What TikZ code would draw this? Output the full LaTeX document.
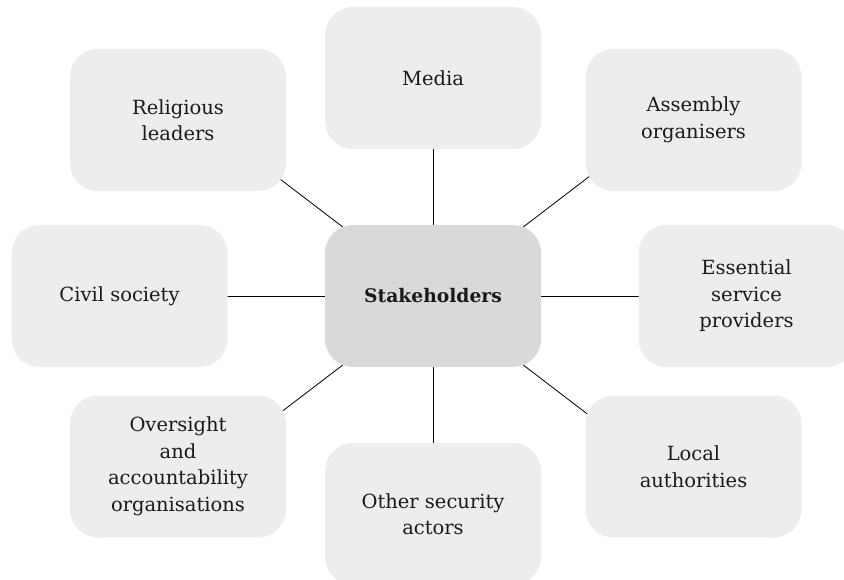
\documentclass[tikz,border=0pt]{standalone}
\usepackage{fontspec}
\setmainfont{DejaVu Serif}
\usepackage{tikz}
\usepackage{xcolor}
\usetikzlibrary{backgrounds}

\definecolor{boxgray}{HTML}{EDEDED}
\definecolor{hubgray}{HTML}{D9D9D9}
\definecolor{inkgray}{HTML}{1A1A1A}

\tikzset{
    actor/.style={rectangle, rounded corners=28pt, fill=boxgray, minimum width=216pt, minimum height=142pt,
        inner sep=0pt, align=center, text=inkgray, font=\fontsize{19.5}{26.5}\selectfont},
    hub/.style={actor, fill=hubgray, font=\fontsize{18.7}{26}\selectfont\bfseries},
    spoke/.style={draw=black, line width=0.8pt}
}

\begin{document}
\begin{tikzpicture}[x=1pt, y=-1pt]
                        \useasboundingbox (0, 0) rectangle (844, 580);

                        \node[hub] (sh) at (433, 296) {Stakeholders};

                        \node[actor] (media) at (433, 78) {Media};
                        \node[actor] (rel) at (178, 120) {Religious\\leaders};
                        \node[actor] (asm) at (693.5, 120) {Assembly\\organisers};
                        \node[actor] (civ) at (119.5, 296) {Civil society};
                        \node[actor] (ess) at (746.5, 296) {Essential\\service\\providers};
                        \node[actor] (ovs) at (178, 466.5) {Oversight\\and\\accountability\\organisations};
                        \node[actor] (oth) at (433, 514) {Other security\\actors};
                        \node[actor] (loc) at (693.5, 466.5) {Local\\authorities};

                        \begin{pgfonlayer}{background}
                            \path (sh.center) ++(217.4:250) coordinate (rel-tip);
                            \path (sh.center) ++(322.6:250) coordinate (asm-tip);
                            \path (sh.center) ++(142.6:250) coordinate (ovs-tip);
                            \path (sh.center) ++(37.4:250) coordinate (loc-tip);

                            \foreach \target in {media, civ, ess, oth} { \draw[spoke] (sh.center) -- (\target.center); }
                            \foreach \target in {rel-tip, asm-tip, ovs-tip, loc-tip} { \draw[spoke] (sh.center) -- (\target); }
                        \end{pgfonlayer}
                    \end{tikzpicture}
\end{document}
